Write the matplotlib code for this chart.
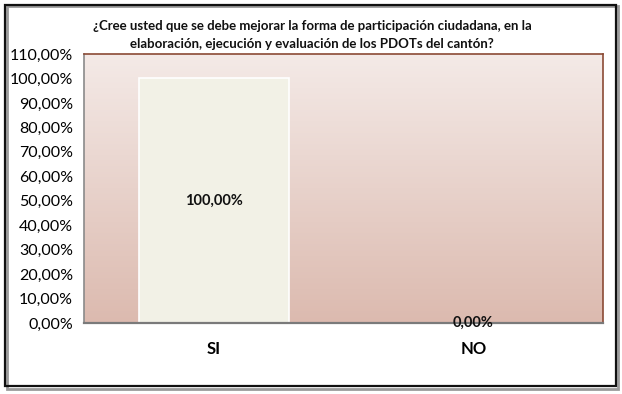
import numpy as np
import matplotlib
matplotlib.use("Agg")
import matplotlib.pyplot as plt
from matplotlib.patches import Rectangle

categories = ["SI", "NO"]
values = [100.0, 0.0]
yticks = list(range(0, 111, 10))
title = "¿Cree usted que se debe mejorar la forma de participación ciudadana, en la\nelaboración, ejecución y evaluación de los PDOTs del cantón?"

W, H = 622, 394
fig = plt.figure(figsize=(W / 100, H / 100), dpi=100)
fig.patch.set_facecolor("white")

# outer frame with shadow
fig.add_artist(Rectangle((7 / W, 1 - 389 / H), 611 / W, 383 / H, transform=fig.transFigure,
                         fill=False, edgecolor="#9a9a9a", lw=2.0, zorder=0))
fig.add_artist(Rectangle((5 / W, 1 - 386 / H), 611 / W, 381 / H, transform=fig.transFigure,
                         fill=False, edgecolor="#111111", lw=1.6, zorder=1))

left, right, top, bottom = 84, 603, 54, 323
ax = fig.add_axes([left / W, 1 - bottom / H, (right - left) / W, (bottom - top) / H])

x = np.arange(len(categories))
ax.set_xlim(-0.5, 1.5)
ax.set_ylim(0, 110)

# gradient background
grad = np.linspace(0, 1, 256).reshape(-1, 1)
c_top = np.array([0xF4, 0xEA, 0xE7]) / 255
c_bot = np.array([0xDC, 0xBA, 0xAF]) / 255
img = c_top[None, None, :] * (1 - grad[:, :, None]) + c_bot[None, None, :] * grad[:, :, None]
ax.imshow(img, extent=[-0.5, 1.5, 0, 110], aspect="auto", origin="upper", zorder=0)

bars = ax.bar(x, values, width=0.578, color="#F2F1E6", edgecolor="white", lw=1.2, zorder=2)

for xi, v in zip(x, values):
    ax.text(xi, v / 2 if v > 0 else 0, f"{v:.2f}%".replace(".", ","), ha="center", va="center",
            fontsize=10.5, fontweight="bold", family="Lato", color="#111111", zorder=5)

ax.set_xticks(x)
ax.set_xticklabels(categories, fontsize=12, fontweight="bold", family="Lato")
ax.set_yticks(yticks)
ax.set_yticklabels([f"{t:.2f}%".replace(".", ",") for t in yticks], fontsize=11.5, family="Lato")
ax.tick_params(axis="both", length=0)
ax.tick_params(axis="x", pad=13)
ax.tick_params(axis="y", pad=8)

for s in ["top", "right"]:
    ax.spines[s].set_color("#8B4A35")
    ax.spines[s].set_linewidth(1.2)
ax.spines["left"].set_color("#8a8a8a")
ax.spines["left"].set_linewidth(1.2)
ax.spines["bottom"].set_color("#7a7a7a")
ax.spines["bottom"].set_linewidth(1.6)

fig.text(312 / W, 1 - 35 / H, title, ha="center", va="center", fontsize=9.5, fontweight="bold",
         family="Lato", linespacing=1.5, color="#111111")

fig.savefig("out.png", dpi=100, facecolor="white")
